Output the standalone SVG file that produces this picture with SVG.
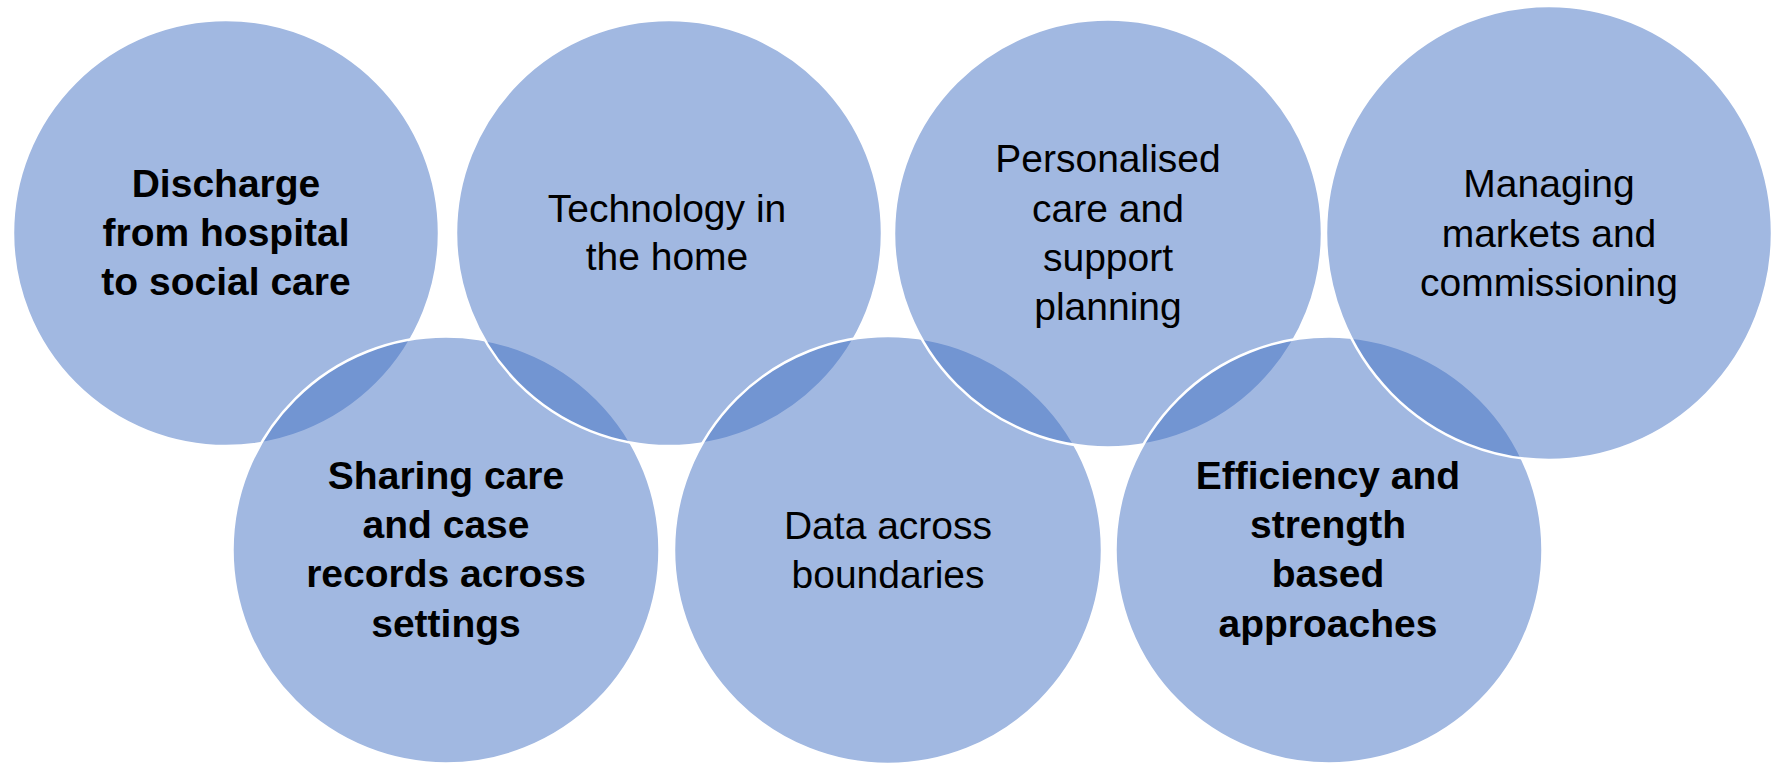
<svg xmlns="http://www.w3.org/2000/svg" width="1779" height="765" viewBox="0 0 1779 765">
<style>
.c{fill:#4472C4;fill-opacity:0.5;stroke:#ffffff;stroke-width:2.5}
.t{font-family:"Liberation Sans",Arial,sans-serif;font-size:39px;fill:#000000;text-anchor:middle}
.b{font-weight:bold}
</style>
<rect x="0" y="0" width="1779" height="765" fill="#ffffff"/>
<g id="connectors"></g>
<g id="n1">
<circle class="c" cx="226" cy="233" r="213"/>
<text class="t b" x="226" y="197">Discharge</text>
<text class="t b" x="226" y="246">from hospital</text>
<text class="t b" x="226" y="295">to social care</text>
</g>
<g id="n5">
<circle class="c" cx="446" cy="550" r="213.5"/>
<text class="t b" x="446" y="489">Sharing care</text>
<text class="t b" x="446" y="538">and case</text>
<text class="t b" x="446" y="587">records across</text>
<text class="t b" x="446" y="637">settings</text>
</g>
<g id="n2">
<circle class="c" cx="669" cy="233" r="213"/>
<text class="t" x="667" y="222">Technology in</text>
<text class="t" x="667" y="270">the home</text>
</g>
<g id="n6">
<circle class="c" cx="888" cy="550" r="214"/>
<text class="t" x="888" y="539">Data across</text>
<text class="t" x="888" y="588">boundaries</text>
</g>
<g id="n3">
<circle class="c" cx="1108" cy="233.5" r="214"/>
<text class="t" x="1108" y="172">Personalised</text>
<text class="t" x="1108" y="222">care and</text>
<text class="t" x="1108" y="271">support</text>
<text class="t" x="1108" y="320">planning</text>
</g>
<g id="n7">
<circle class="c" cx="1329" cy="550" r="213.5"/>
<text class="t b" x="1328" y="489">Efficiency and</text>
<text class="t b" x="1328" y="538">strength</text>
<text class="t b" x="1328" y="587">based</text>
<text class="t b" x="1328" y="637">approaches</text>
</g>
<g id="n4">
<ellipse class="c" cx="1549" cy="233" rx="223" ry="227"/>
<text class="t" x="1549" y="197">Managing</text>
<text class="t" x="1549" y="247">markets and</text>
<text class="t" x="1549" y="296">commissioning</text>
</g>
</svg>
